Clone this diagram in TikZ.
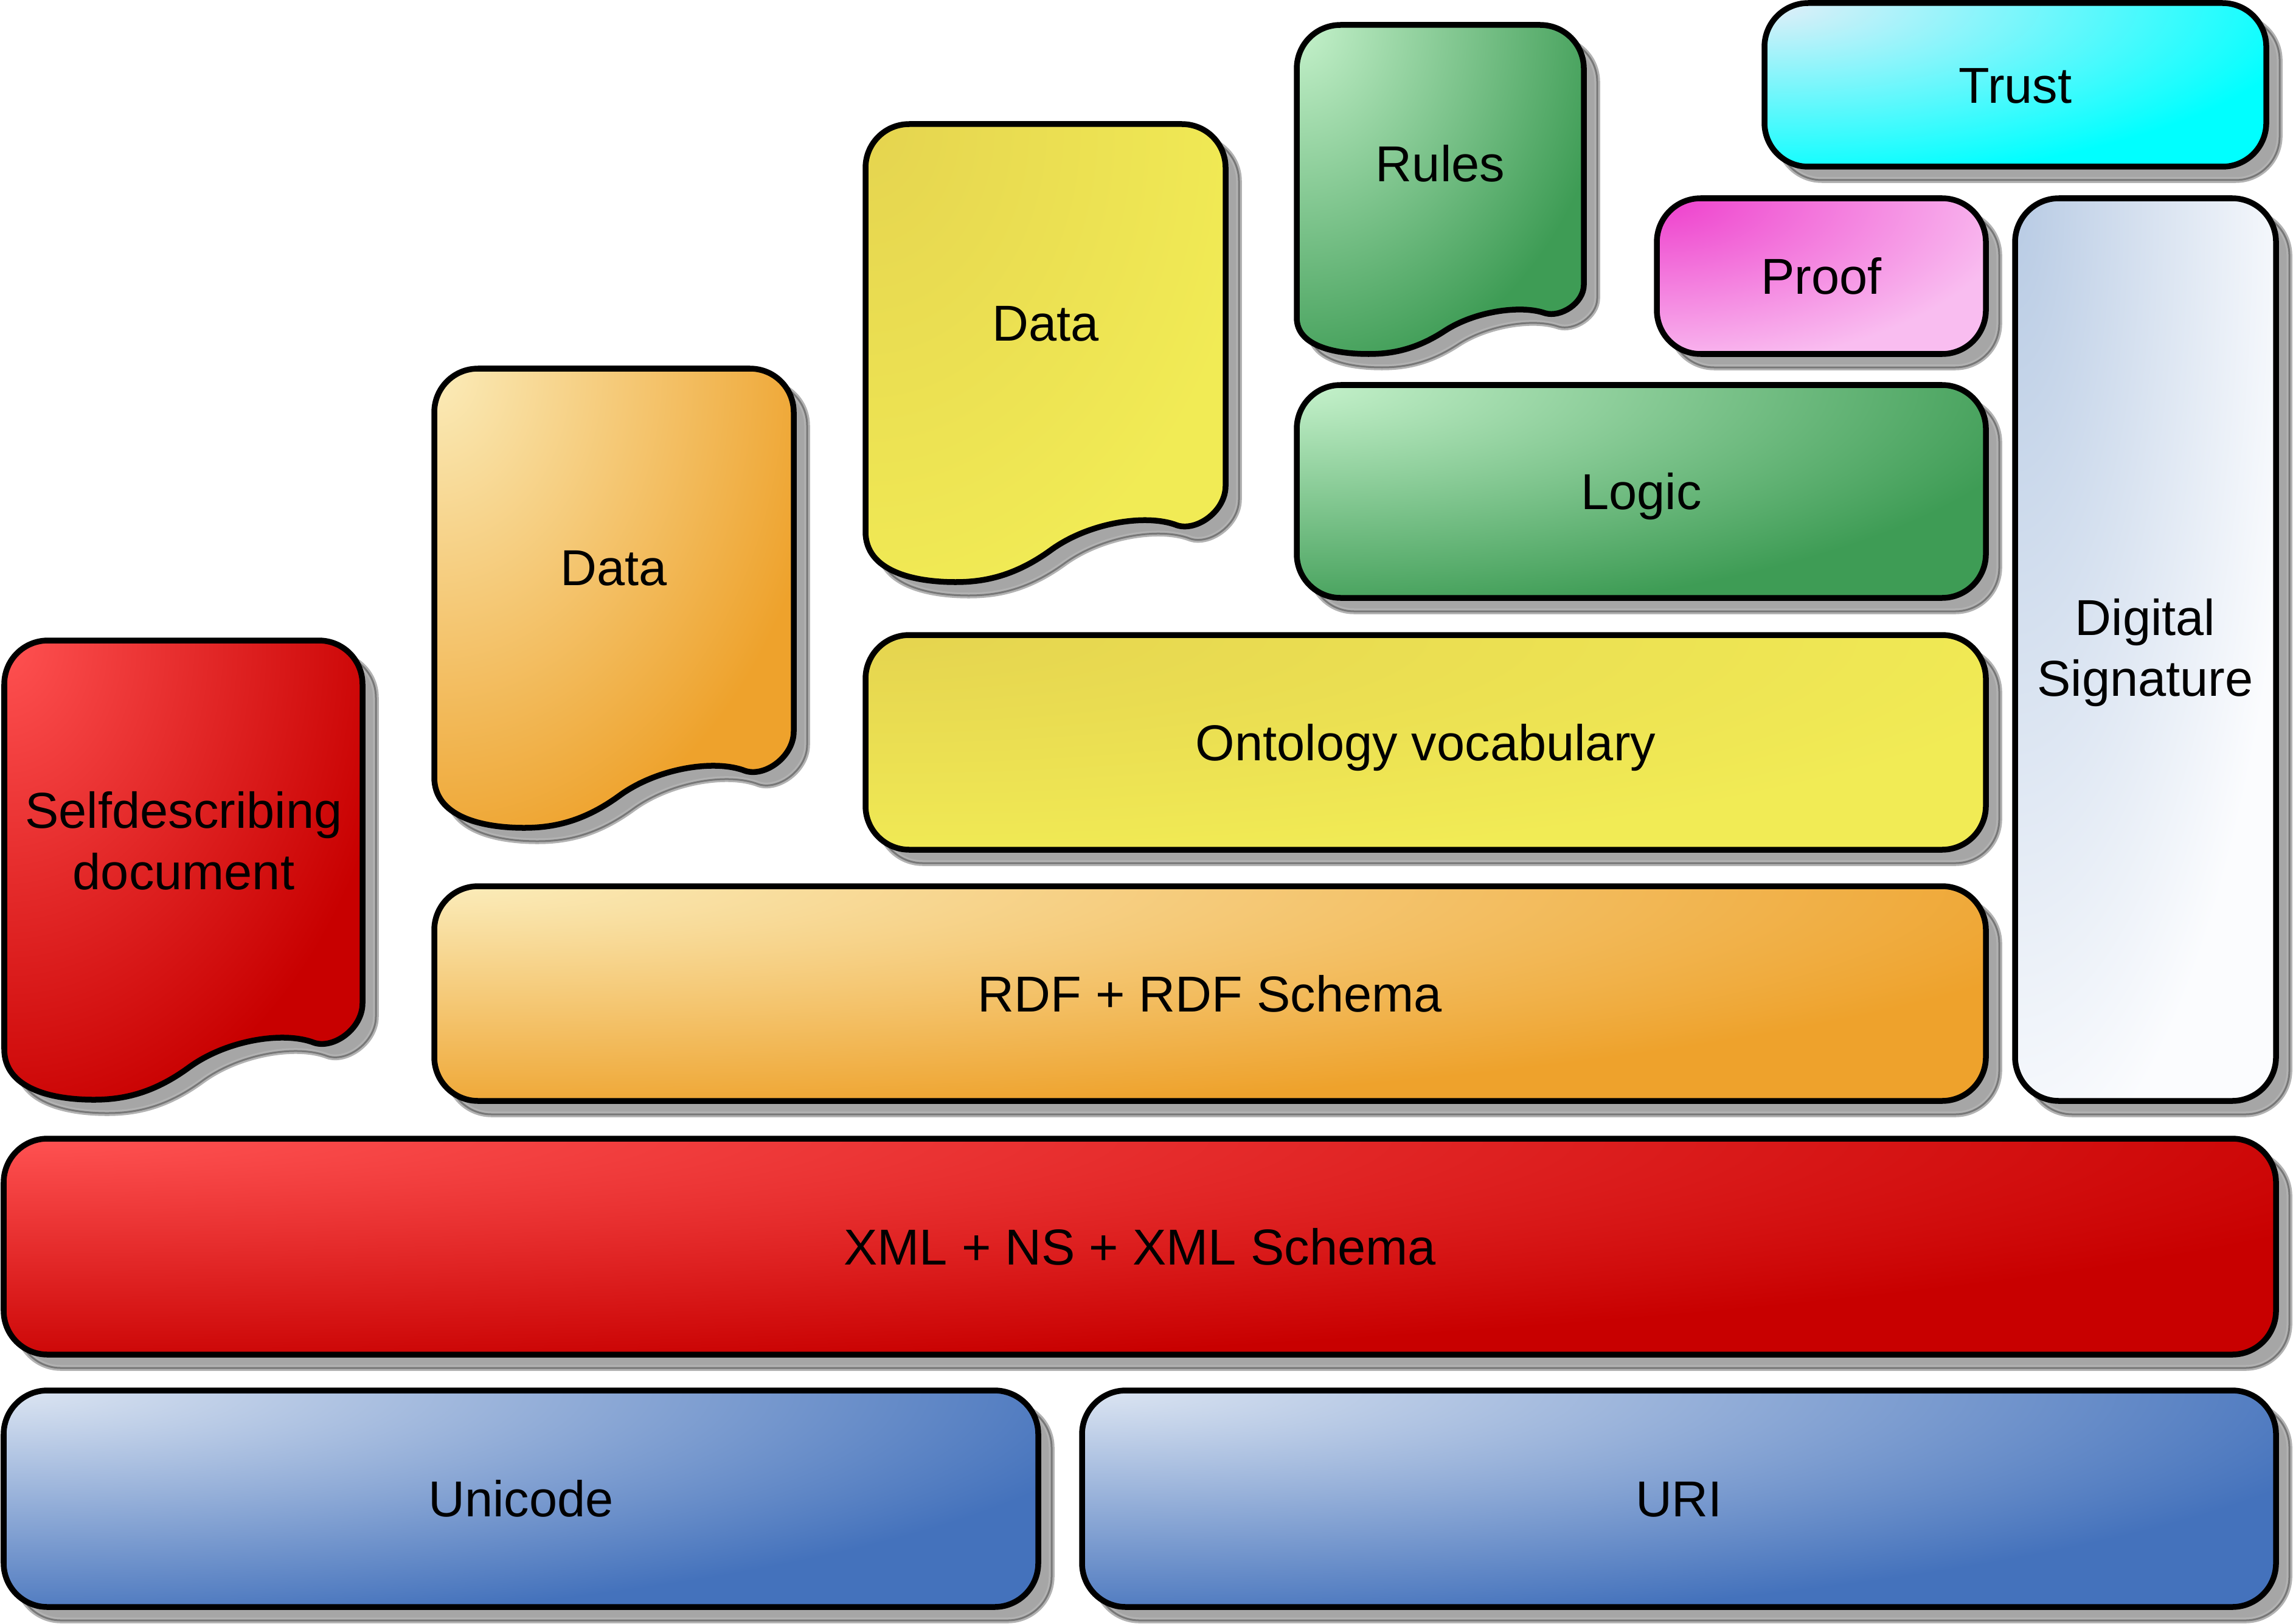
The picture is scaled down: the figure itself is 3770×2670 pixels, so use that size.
\documentclass[tikz,border=0pt]{standalone}
\usepackage{fontspec}
\setmainfont{Liberation Sans}
\definecolor{redin}{HTML}{FF5252}
\definecolor{redout}{HTML}{C80000}
\definecolor{orangein}{HTML}{FBECBA}
\definecolor{orangeout}{HTML}{EEA22C}
\definecolor{yellowin}{HTML}{E5D44F}
\definecolor{yellowout}{HTML}{F1EB55}
\definecolor{greenin}{HTML}{C6F2CC}
\definecolor{greenout}{HTML}{3E9C55}
\definecolor{pinkin}{HTML}{EE3ECC}
\definecolor{pinkout}{HTML}{F9BDF0}
\definecolor{cyanin}{HTML}{E4EEF8}
\definecolor{cyanout}{HTML}{00FFFF}
\definecolor{sigin}{HTML}{B8CBE4}
\definecolor{sigout}{HTML}{FBFCFE}
\definecolor{bluein}{HTML}{DCE5F2}
\definecolor{blueout}{HTML}{4472BC}
\definecolor{shfill}{HTML}{A6A6A6}
\definecolor{shedge}{HTML}{B2B2B2}
\definecolor{shline}{HTML}{777777}
\tikzset{
  shadowst/.style={fill=shfill, draw=shedge, line width=0.095cm,
    postaction={draw=shline, line width=0.03cm}},
  boxst/.style={draw=black, line width=0.095cm},
  lbl/.style={font=\fontsize{23.6}{28.7}\selectfont, text=black,
    text height=16.9pt, text depth=0pt, inner sep=0pt},
  lbltwo/.style={font=\fontsize{23.6}{28.7}\selectfont, text=black,
    align=center, inner sep=0pt},
  grad/.style n args={4}{fill=#2, path picture={
    \shade[inner color=#1, outer color=#2]
      (path picture bounding box.north west) ellipse [x radius=#3, y radius=#4];}}
}
% rounded layer box: name, x0, y0, x1, y1, inner, outer, text
\newcommand\layerbox[8]{%
  \path[shadowst, rounded corners=0.72cm] ({#2+22},{#3+22}) rectangle ({#4+22},{#5+22});
  \draw[boxst, rounded corners=0.72cm,
    grad={#6}{#7}{{(#4-#2)*0.011cm}}{{(#5-#3)*0.011cm}}] (#2,#3) rectangle (#4,#5);
  \node[lbl] (#1) at ({(#2+#4)/2},{(#3+#5)/2}) {#8};
}
% document outline: x0, y0, W, H
\newcommand\docpath[4]{%
  ({#1},{#2+72}) .. controls ({#1},{#2+32}) and ({#1+32},{#2}) .. ({#1+72},{#2})
  -- ({#1+#3-72},{#2}) .. controls ({#1+#3-32},{#2}) and ({#1+#3},{#2+32}) .. ({#1+#3},{#2+72})
  -- ({#1+#3},{#2+0.79*#4})
  .. controls ({#1+#3},{#2+0.845*#4}) and ({#1+0.92*#3},{#2+0.89*#4}) .. ({#1+0.865*#3},{#2+0.876*#4})
  .. controls ({#1+0.78*#3},{#2+0.85*#4}) and ({#1+0.62*#3},{#2+0.87*#4}) .. ({#1+0.515*#3},{#2+0.93*#4})
  .. controls ({#1+0.415*#3},{#2+0.987*#4}) and ({#1+0.33*#3},{#2+#4}) .. ({#1+0.25*#3},{#2+#4})
  .. controls ({#1+0.13*#3},{#2+#4}) and ({#1},{#2+0.975*#4}) .. ({#1},{#2+0.89*#4})
  -- cycle}
% document shape: name, x0, y0, W, H, inner, outer, label y, text
\newcommand\docshape[9]{%
  \path[shadowst] \docpath{#2+22}{#3+22}{#4}{#5};
  \draw[boxst, grad={#6}{#7}{{#4*0.011cm}}{{#5*0.011cm}}] \docpath{#2}{#3}{#4}{#5};
  \node[lbl] (#1) at ({#2+#4/2},{#8}) {#9};
}
\begin{document}
\begin{tikzpicture}[x=0.01cm, y=-0.01cm]
\useasboundingbox (0,0) rectangle (3770,2670);
\fill[white] (0,0) rectangle (3770,2670);

\layerbox{unicode}{6}{2286}{1707}{2642}{bluein}{blueout}{Unicode}
\layerbox{uri}{1779}{2286}{3742}{2642}{bluein}{blueout}{URI}
\layerbox{xml}{6}{1872}{3742}{2227}{redin}{redout}{XML + NS + XML Schema}
\layerbox{rdf}{714}{1457}{3265}{1810}{orangein}{orangeout}{RDF + RDF Schema}
\layerbox{onto}{1423}{1044}{3265}{1397}{yellowin}{yellowout}{Ontology vocabulary}
\layerbox{logic}{2132}{633}{3265}{983}{greenin}{greenout}{Logic}
\layerbox{proof}{2724}{326}{3265}{582}{pinkin}{pinkout}{Proof}
\layerbox{trust}{2901}{5}{3726}{274}{cyanin}{cyanout}{Trust}

% digital signature (two-line label)
\path[shadowst, rounded corners=0.72cm] (3335,348) rectangle (3764,1832);
\draw[boxst, rounded corners=0.72cm, grad={sigin}{sigout}{4.72cm}{16.3cm}] (3313,326) rectangle (3742,1810);
\node[lbltwo] (sig) at (3527,1073) {Digital\\Signature};

\docshape{rules}{2132}{41}{472}{541}{greenin}{greenout}{269}{Rules}
\docshape{data1}{1423}{204}{592}{753}{yellowin}{yellowout}{531}{Data}
\docshape{data2}{714}{606}{591}{755}{orangein}{orangeout}{933}{Data}

% selfdescribing document (two-line label)
\path[shadowst] \docpath{29}{1075}{589}{755};
\draw[boxst, grad={redin}{redout}{6.48cm}{8.3cm}] \docpath{7}{1053}{589}{755};
\node[lbltwo] (self) at (302,1382) {Selfdescribing\\document};
\end{tikzpicture}
\end{document}
